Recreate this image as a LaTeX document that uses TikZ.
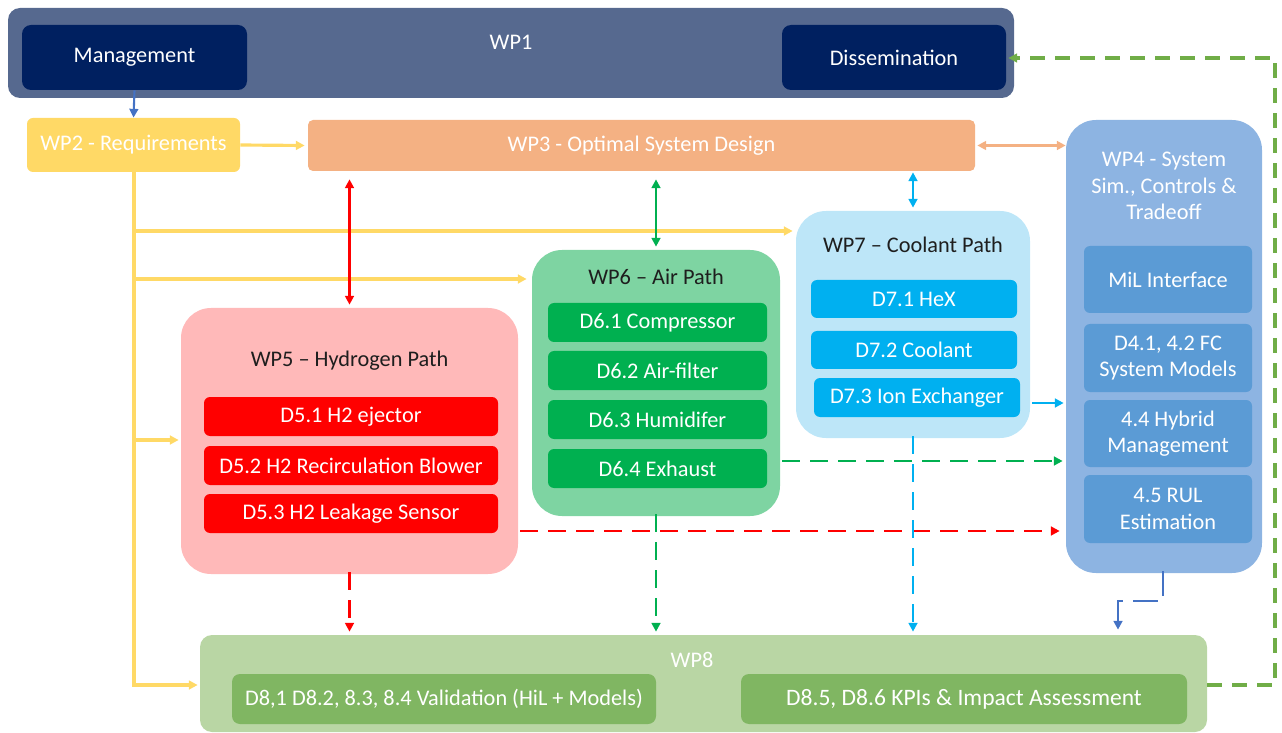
\documentclass[tikz,border=0pt]{standalone}
\usepackage{fontspec}
\setmainfont{Carlito}
\usetikzlibrary{fit,arrows.meta}
\definecolor{cwpone}{HTML}{56698F}
\definecolor{cnavy}{HTML}{002060}
\definecolor{cyel}{HTML}{FFD966}
\definecolor{corg}{HTML}{F4B183}
\definecolor{cwpfour}{HTML}{8DB4E2}
\definecolor{cwpfourin}{HTML}{5B9BD5}
\definecolor{cwpfive}{HTML}{FFB9B9}
\definecolor{cred}{HTML}{FF0000}
\definecolor{cwpsix}{HTML}{7ED4A2}
\definecolor{cgreen}{HTML}{00B050}
\definecolor{cwpseven}{HTML}{BDE6F8}
\definecolor{ccyan}{HTML}{00B0F0}
\definecolor{cwpeight}{HTML}{B9D6A4}
\definecolor{cwpeightin}{HTML}{80B662}
\definecolor{cdgreen}{HTML}{70AD47}
\definecolor{cblue}{HTML}{4472C4}
\definecolor{cdark}{HTML}{1E1E1E}
\tikzset{
  box/.style={inner sep=0pt, draw=none, rounded corners=0.12cm},
  bigbox/.style={box, rounded corners=0.6cm},
  lbl/.style={font=\fontsize{12.7}{15}\selectfont, text=white, inner sep=0pt, align=center},
  ttl/.style={font=\fontsize{12.7}{15}\selectfont, text=cdark, inner sep=0pt},
  tip/.style={-{Triangle[length=5pt,width=5pt]}},
  dtip/.style={{Triangle[length=5pt,width=5pt]}-{Triangle[length=5pt,width=5pt]}},
  dsh/.style={dash pattern=on 0.36cm off 0.2cm},
}
\begin{document}
\begin{tikzpicture}[x=0.02cm,y=-0.02cm]
\useasboundingbox (0,0) rectangle (1282,733);
% WP1
\node[box, fill=cwpone, rounded corners=0.24cm, fit={(8,8)(1014,98)}] (wp1) {};
\node[lbl] (wp1t) at (511,42) {WP1};
\node[box, fill=cnavy, rounded corners=0.18cm, fit={(22,25)(247,90)}, label={[lbl]center:Management}] (mgmt) {};
\node[box, fill=cnavy, rounded corners=0.18cm, fit={(782,25)(1006,90)}, label={[lbl]center:Dissemination}] (diss) {};
% WP2, WP3
\node[box, fill=cyel, fit={(27,118)(240,172)}, label={[lbl]center:WP2 - Requirements}] (wp2) {};
\node[box, fill=corg, rounded corners=0.1cm, fit={(308,120)(975,171)}, label={[lbl]center:WP3 - Optimal System Design}] (wp3) {};
% WP4
\node[bigbox, fill=cwpfour, fit={(1066,120)(1262,573)}] (wp4) {};
\node[lbl] (wp4t) at (1164,186) {WP4 - System\\Sim., Controls \&\\Tradeoff};
\node[box, fill=cwpfourin, fit={(1084,246)(1252,313)}, label={[lbl]center:MiL Interface}] (mil) {};
\node[box, fill=cwpfourin, fit={(1084,324)(1252,392)}, label={[lbl]center:D4.1, 4.2 FC\\System Models}] (d41) {};
\node[box, fill=cwpfourin, fit={(1084,400)(1252,467)}, label={[lbl]center:4.4 Hybrid\\Management}] (d44) {};
\node[box, fill=cwpfourin, fit={(1084,475)(1252,543)}, label={[lbl]center:4.5 RUL\\Estimation}] (d45) {};
% WP5
\node[bigbox, fill=cwpfive, fit={(181,308)(518,574)}] (wp5) {};
\node[ttl] (wp5t) at (349.5,361) {WP5 -- Hydrogen Path};
\node[box, fill=cred, fit={(204,397)(498,436)}, label={[lbl]center:D5.1 H2 ejector}] (d51) {};
\node[box, fill=cred, fit={(204,446)(498,485)}, label={[lbl]center:D5.2 H2 Recirculation Blower}] (d52) {};
\node[box, fill=cred, fit={(204,494)(498,533)}, label={[lbl]center:D5.3 H2 Leakage Sensor}] (d53) {};
% WP6
\node[bigbox, fill=cwpsix, fit={(532,250)(780,516)}] (wp6) {};
\node[ttl] (wp6t) at (656,277) {WP6 -- Air Path};
\node[box, fill=cgreen, fit={(548,303)(767,342)}, label={[lbl]center:D6.1 Compressor}] (d61) {};
\node[box, fill=cgreen, fit={(548,351)(767,390)}, label={[lbl]center:D6.2 Air-filter}] (d62) {};
\node[box, fill=cgreen, fit={(548,400)(767,439)}, label={[lbl]center:D6.3 Humidifer}] (d63) {};
\node[box, fill=cgreen, fit={(548,449)(767,488)}, label={[lbl]center:D6.4 Exhaust}] (d64) {};
% WP7
\node[bigbox, fill=cwpseven, fit={(796,211)(1030,438)}] (wp7) {};
\node[ttl] (wp7t) at (913,245) {WP7 -- Coolant Path};
\node[box, fill=ccyan, fit={(811,280)(1017,318)}, label={[lbl]center:D7.1 HeX}] (d71) {};
\node[box, fill=ccyan, fit={(811,331)(1017,369)}, label={[lbl]center:D7.2 Coolant}] (d72) {};
\node[box, fill=ccyan, fit={(814,378)(1020,417)}, label={[lbl]center:D7.3 Ion Exchanger}] (d73) {};
% WP8
\node[box, fill=cwpeight, rounded corners=0.24cm, fit={(200,635)(1207,732)}] (wp8) {};
\node[lbl] (wp8t) at (692,660) {WP8};
\node[box, fill=cwpeightin, rounded corners=0.16cm, fit={(232,674)(656,724)}, label={[lbl]center:D8,1 D8.2, 8.3, 8.4 Validation (HiL + Models)}] (d81) {};
\node[box, fill=cwpeightin, rounded corners=0.16cm, fit={(741,674)(1187,724)}, label={[lbl, font=\fontsize{13.4}{15}\selectfont]center:D8.5, D8.6 KPIs \& Impact Assessment}] (d85) {};
% connectors
\draw[cblue, line width=1.2pt, tip] (mgmt.south) -- (wp2.north);
\draw[cyel, line width=1.8pt, tip] (wp2.east) -- ([xshift=-3*0.02cm]wp3.west);
\draw[corg, line width=1.5pt, dtip] ([xshift=2*0.02cm]wp3.east) -- (wp4.west |- wp3.east);
% yellow trunk
\coordinate (ta) at (134,231);
\coordinate (tb) at (134,279);
\coordinate (tc) at (134,440);
\coordinate (td) at (134,685);
\draw[cyel, line width=1.8pt, tip] (wp2.south -| td) -- (td) -- ([xshift=-2*0.02cm]td -| wp8.west);
\draw[cyel, line width=1.8pt, tip] (ta) -- ([xshift=-3*0.02cm]ta -| wp7.west);
\draw[cyel, line width=1.8pt, tip] (tb) -- ([xshift=-5*0.02cm]tb -| wp6.west);
\draw[cyel, line width=1.8pt, tip] (tc) -- ([xshift=-2*0.02cm]tc -| wp5.west);
% vertical double arrows to WP3
\draw[cred, line width=1.3pt, dtip] ([yshift=-8*0.02cm]wp3.south -| wp5.north) -- ([yshift=3*0.02cm]wp5.north);
\draw[cgreen, line width=1.3pt, dtip] ([yshift=-8*0.02cm]wp3.south -| wp6.north) -- ([yshift=3*0.02cm]wp6.north);
\draw[ccyan, line width=1.3pt, dtip] ([yshift=-1*0.02cm]wp3.south -| wp7.north) -- ([yshift=3*0.02cm]wp7.north);
% to WP4
\coordinate (ya) at (0,403);
\coordinate (yb) at (0,461);
\coordinate (yc) at (0,531);
\draw[ccyan, line width=1.3pt, tip] ([xshift=2*0.02cm]wp7.east |- ya) -- ([xshift=-2*0.02cm]wp4.west |- ya);
\draw[cgreen, line width=1.5pt, dsh, tip] ([xshift=2*0.02cm]wp6.east |- yb) -- ([xshift=-3*0.02cm]wp4.west |- yb);
\draw[cred, line width=1.5pt, dsh, tip] ([xshift=2*0.02cm]wp5.east |- yc) -- ([xshift=-6*0.02cm]wp4.west |- yc);
% down to WP8
\draw[cred, line width=1.5pt, dsh, tip] ([yshift=2*0.02cm]wp5.south) -- ([yshift=3*0.02cm]wp8.north -| wp5.south);
\draw[cgreen, line width=1.5pt, dsh, tip] ([yshift=2*0.02cm]wp6.south) -- ([yshift=3*0.02cm]wp8.north -| wp6.south);
\draw[ccyan, line width=1.5pt, dsh, tip] ([yshift=2*0.02cm]wp7.south) -- ([yshift=3*0.02cm]wp8.north -| wp7.south);
\coordinate (ea) at (1163,601);
\coordinate (eb) at (1118,601);
\draw[cblue, line width=1.5pt, dash pattern=on 0.5cm off 0.2cm, tip] ([yshift=2*0.02cm]wp4.south -| ea) -- (ea) -- (eb) -- ([yshift=5*0.02cm]wp8.north -| eb);
% feedback
\coordinate (fa) at (1275,685);
\coordinate (fb) at (1275,58);
\draw[cdgreen, line width=1.8pt, dash pattern=on 0.3cm off 0.2cm, tip] (wp8.east |- fa) -- (fa) -- (fb) -- ([xshift=2*0.02cm]fb -| diss.east);
\end{tikzpicture}
\end{document}
